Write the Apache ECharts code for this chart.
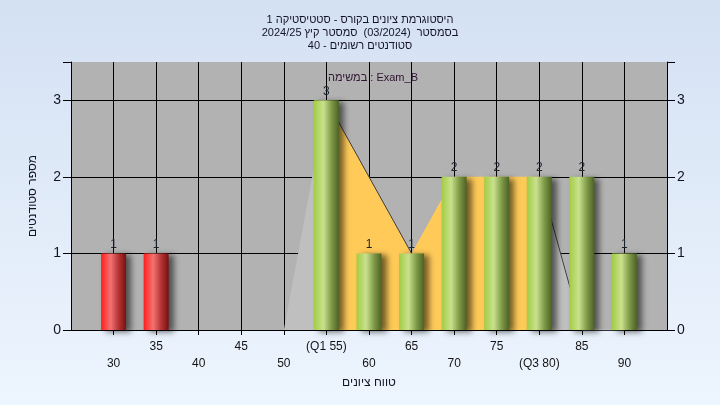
<!DOCTYPE html>
<html>
<head>
<meta charset="utf-8">
<script src="https://cdn.jsdelivr.net/npm/echarts@6/dist/echarts.min.js"></script>
<style>
html,body{margin:0;padding:0;}
#chart{width:720px;height:405px;}
</style>
</head>
<body>
<div id="chart"></div>
<script>
// ---- data ----
const titleLines = [
  'היסטוגרמת ציונים בקורס - סטטיסטיקה 1',
  'בסמסטר  (03/2024)  סמסטר קיץ 2024/25',
  'סטודנטים רשומים - 40'
];
const subtitle = 'במשימה : Exam_B';
const xAxisTitle = 'טווח ציונים';
const yAxisTitle = 'מספר סטודנטים';
const categories = [30, 35, 40, 45, 50, 55, 60, 65, 70, 75, 80, 85, 90];
const counts     = [1, 1, 0, 0, 0, 3, 1, 1, 2, 2, 2, 2, 1];
const curve      = [null, null, null, null, 0, 3, 2, 1, 2, 2, 2, 0, 0];
const q1 = 55;
const q3 = 80;
const passMark = 55;
const tickLabels = {55: '(Q1 55)', 80: '(Q3 80)'};

// ---- derived ----
const pts = categories.map((c, i) => [c, curve[i]]).filter(p => p[1] !== null);
const grayLeft  = pts.filter(p => p[0] <= q1);
const grayRight = pts.filter(p => p[0] >= q3);
const yellow    = pts.filter(p => p[0] >= q1 && p[0] <= q3);
const edge = categories.map((c, i) => {
  const v = curve[i];
  if (v === null) return [c, null];
  const nxt = i + 1 < curve.length ? curve[i + 1] : null;
  const prv = i > 0 ? curve[i - 1] : null;
  if ((nxt !== null && nxt < v) || (prv !== null && prv > v)) return [c, v];
  return [c, null];
});

const greenGrad = new echarts.graphic.LinearGradient(0, 0, 1, 0, [
  {offset: 0, color: '#a2cc44'},
  {offset: 0.38, color: '#c9e18e'},
  {offset: 0.7, color: '#7f9a48'},
  {offset: 1, color: '#4b6224'}
]);
const redGrad = new echarts.graphic.LinearGradient(0, 0, 1, 0, [
  {offset: 0, color: '#ff1e1e'},
  {offset: 0.38, color: '#f47272'},
  {offset: 0.7, color: '#b43434'},
  {offset: 1, color: '#7a1010'}
]);
const barData = categories.map((c, i) => ({
  value: [c, counts[i]],
  itemStyle: {color: c < passMark ? redGrad : greenGrad}
}));

const FONT = 'Liberation Sans, DejaVu Sans, Arial, sans-serif';
const chart = echarts.init(document.getElementById('chart'));
chart.setOption({
  animation: false,
  backgroundColor: new echarts.graphic.LinearGradient(0, 0, 0, 1, [
    {offset: 0, color: '#d4e1f3'},
    {offset: 1, color: '#edf5fe'}
  ]),
  title: [{
    text: titleLines.join('\n'),
    left: 'center',
    top: 8,
    textStyle: {fontFamily: FONT, fontSize: 11, fontWeight: 'normal', color: '#141428', lineHeight: 13}
  }, {
    text: subtitle,
    left: 323,
    top: 67,
    textStyle: {fontFamily: FONT, fontSize: 11, fontWeight: 'normal', color: '#2e1430'}
  }],
  grid: {left: 71, right: 53, top: 62, bottom: 75, show: true, backgroundColor: '#b2b2b2', borderWidth: 0},
  xAxis: {
    type: 'value', min: 25, max: 95, interval: 5,
    name: xAxisTitle, nameLocation: 'middle', nameGap: 43,
    nameTextStyle: {fontFamily: FONT, fontSize: 12, color: '#141428'},
    axisLine: {show: true, lineStyle: {color: '#000', width: 1}},
    axisTick: {show: true, length: 5, lineStyle: {color: '#000'}},
    splitLine: {show: true, showMinLine: false, showMaxLine: false, lineStyle: {color: '#000', width: 1}},
    axisLabel: {
      fontFamily: FONT, fontSize: 12, color: '#141414', margin: 8, lineHeight: 17,
      showMinLabel: false, showMaxLabel: false,
      formatter: v => {
        const idx = categories.indexOf(v);
        if (idx < 0) return '';
        const t = tickLabels[v] || String(v);
        return idx % 2 === 0 ? '\n' + t : t;
      }
    }
  },
  yAxis: [{
    type: 'value', min: 0, max: 3.5, interval: 1, position: 'left',
    name: yAxisTitle, nameLocation: 'middle', nameGap: 32,
    nameTextStyle: {fontFamily: FONT, fontSize: 12, color: '#141428'},
    axisLine: {show: true, lineStyle: {color: '#000', width: 1}},
    axisTick: {show: true, length: 8, lineStyle: {color: '#000'}},
    splitLine: {show: true, showMaxLine: false, lineStyle: {color: '#000', width: 1}},
    axisLabel: {fontFamily: FONT, fontSize: 14, color: '#141428', margin: 10,
      formatter: v => (v % 1 === 0 ? String(v) : '')}
  }, {
    type: 'value', min: 0, max: 3.5, interval: 1, position: 'right',
    axisLine: {show: true, lineStyle: {color: '#000', width: 1}},
    axisTick: {show: true, length: 8, lineStyle: {color: '#000'}},
    splitLine: {show: false},
    axisLabel: {fontFamily: FONT, fontSize: 14, color: '#141428', margin: 10,
      formatter: v => (v % 1 === 0 ? String(v) : '')}
  }],
  series: [{
    type: 'line', data: grayLeft, symbol: 'none', z: 2,
    lineStyle: {width: 0}, areaStyle: {color: '#bfbfbf', opacity: 1}
  }, {
    type: 'line', data: grayRight, symbol: 'none', z: 2,
    lineStyle: {width: 1, color: '#c8c8c8'}, areaStyle: {color: '#bfbfbf', opacity: 1}
  }, {
    type: 'line', data: yellow, symbol: 'none', z: 2,
    lineStyle: {width: 0}, areaStyle: {color: '#ffca58', opacity: 1}
  }, {
    type: 'line', data: edge, symbol: 'none', z: 3, connectNulls: false,
    lineStyle: {width: 1, color: '#3c3c3c'}
  }, {
    type: 'bar', data: barData, barWidth: 25, z: 4,
    itemStyle: {shadowColor: 'rgba(0,0,0,0.55)', shadowBlur: 6, shadowOffsetX: 5, shadowOffsetY: 2},
    label: {
      show: true, position: 'top', distance: 3,
      fontFamily: FONT, fontSize: 12, color: '#1c2430',
      formatter: p => (p.value[1] > 0 ? String(p.value[1]) : '')
    }
  }]
});
</script>
</body>
</html>
